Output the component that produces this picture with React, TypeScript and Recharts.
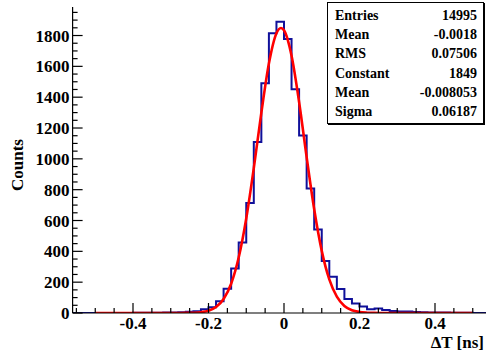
import React from "react";
import { ComposedChart, Line, XAxis, YAxis } from "recharts";

// Histogram: bins of width 0.02 starting at -0.56
const binStart = -0.56;
const binWidth = 0.02;
const counts = [
  0, 0, 0, 0, 0, 0, 0, 0, 1, 1, 2, 2, 3, 4, 5, 8, 12, 24, 38, 76, 158, 288, 457, 713, 1109, 1490, 1814, 1890,
  1778, 1452, 1152, 807, 542, 337, 235, 155, 91, 62, 42, 24, 30, 20, 13, 9, 9, 7, 5, 4, 3, 3, 2, 2, 1, 0, 0, 0,
];

// Gaussian fit curve
const fitX = [-0.5, -0.34, -0.3, -0.28, -0.26, -0.24, -0.22, -0.2, -0.18, -0.16, -0.14, -0.12, -0.1, -0.08, -0.06, -0.04, -0.02, -0.008, 0, 0.02, 0.04, 0.06, 0.08, 0.1, 0.12, 0.14, 0.16, 0.18, 0.2, 0.22, 0.24, 0.26, 0.3, 0.5];
const fitY = [0, 0, 0.03, 0.1, 0.5, 1.7, 5.2, 15, 39, 91, 190, 360, 613, 940, 1299, 1618, 1815, 1849, 1834, 1669, 1369, 1011, 673, 403, 218, 106, 46, 18, 6.5, 2.1, 0.6, 0.15, 0, 0];

const xMajorTicks = [-0.4, -0.2, 0, 0.2, 0.4];
const xMajorLabels = ["-0.4", "-0.2", "0", "0.2", "0.4"];
const xMinorTicks = [-0.55, -0.5, -0.45, -0.35, -0.3, -0.25, -0.15, -0.1, -0.05, 0.05, 0.1, 0.15, 0.25, 0.3, 0.35, 0.45, 0.5, 0.55];
const yMajorTicks = [0, 200, 400, 600, 800, 1000, 1200, 1400, 1600, 1800];
const yMinorTicks = [50, 100, 150, 250, 300, 350, 450, 500, 550, 650, 700, 750, 850, 900, 950, 1050, 1100, 1150, 1250, 1300, 1350, 1450, 1500, 1550, 1650, 1700, 1750, 1850, 1900, 1950];

const xDomain = [-0.56, 0.56];
const yDomain = [0, 1985];

const statsLabels = ["Entries", "Mean", "RMS", "Constant", "Mean", "Sigma"];
const statsValues = ["14995", "-0.0018", "0.07506", "1849", "-0.008053", "0.06187"];

const histData = [
  ...counts.map((c, i) => ({ x: binStart + i * binWidth, y: c })),
  { x: binStart + counts.length * binWidth, y: counts[counts.length - 1] },
];
const fitData = fitX.map((x, i) => ({ x, y: fitY[i] }));

const FONT = "'Liberation Serif', 'DejaVu Serif', serif";

const isIn = (arr: number[], v: number) => arr.some((a) => Math.abs(a - v) < 1e-9);

const XTick = (props: any) => {
  const { x, y, payload } = props;
  const v = payload.value;
  const idx = xMajorTicks.findIndex((a) => Math.abs(a - v) < 1e-9);
  const major = idx >= 0;
  return (
    <g>
      <line x1={x} x2={x} y1={y} y2={y - (major ? 10 : 5)} stroke="#000" strokeWidth={1.2} />
      {major && (
        <text x={x} y={y + 16} textAnchor="middle" fontFamily={FONT} fontWeight="bold" fontSize={17} fill="#000">
          {xMajorLabels[idx]}
        </text>
      )}
    </g>
  );
};

const YTick = (props: any) => {
  const { x, y, payload } = props;
  const v = payload.value;
  const major = isIn(yMajorTicks, v);
  return (
    <g>
      <line x1={x} x2={x + (major ? 10 : 5)} y1={y} y2={y} stroke="#000" strokeWidth={1.2} />
      {major && (
        <text x={x - 3} y={y + 6} textAnchor="end" fontFamily={FONT} fontWeight="bold" fontSize={17} fill="#000">
          {String(v)}
        </text>
      )}
    </g>
  );
};

export default function App() {
  const allX = [...xMajorTicks, ...xMinorTicks].sort((a, b) => a - b);
  const allY = [...yMajorTicks, ...yMinorTicks].sort((a, b) => a - b);
  return (
    <div style={{ position: "absolute", left: 0, top: 0, width: 486, height: 358, overflow: "hidden", background: "#fff" }}>
      <ComposedChart width={500} height={358} margin={{ top: 7, right: 4.6, bottom: 0, left: 0 }}>
        <XAxis
          dataKey="x"
          type="number"
          domain={xDomain}
          allowDataOverflow
          ticks={allX}
          interval={0}
          height={45}
          tickSize={0}
          tickMargin={0}
          tickLine={false}
          axisLine={{ stroke: "#000", strokeWidth: 1.2 }}
          tick={(p: any) => <XTick {...p} />}
        />
        <XAxis
          xAxisId="top"
          orientation="top"
          type="number"
          domain={xDomain}
          height={0}
          tick={false}
          tickLine={false}
          axisLine={{ stroke: "#000", strokeWidth: 1.2 }}
        />
        <YAxis
          type="number"
          domain={yDomain}
          allowDataOverflow
          ticks={allY}
          interval={0}
          width={72.6}
          tickSize={0}
          tickMargin={0}
          tickLine={false}
          axisLine={{ stroke: "#000", strokeWidth: 1.2 }}
          tick={(p: any) => <YTick {...p} />}
        />
        <Line
          data={histData}
          dataKey="y"
          type="stepAfter"
          stroke="#10109a"
          strokeWidth={2}
          dot={false}
          isAnimationActive={false}
        />
        <Line
          data={fitData}
          dataKey="y"
          type="monotone"
          stroke="#ff0000"
          strokeWidth={2.6}
          dot={false}
          isAnimationActive={false}
        />
      </ComposedChart>
      <div
        style={{
          position: "absolute",
          left: 7,
          top: 165,
          transform: "translate(-50%, -50%) rotate(-90deg)",
          transformOrigin: "center",
          fontFamily: FONT,
          fontWeight: "bold",
          fontSize: 17,
          whiteSpace: "nowrap",
          marginLeft: 11,
        }}
      >
        Counts
      </div>
      <div
        style={{
          position: "absolute",
          right: 2,
          top: 333,
          fontFamily: FONT,
          fontWeight: "bold",
          fontSize: 17,
          lineHeight: "20px",
          whiteSpace: "nowrap",
        }}
      >
        ΔT [ns]
      </div>
      <div
        style={{
          position: "absolute",
          left: 327,
          top: 2,
          width: 157,
          height: 122,
          border: "1px solid #000",
          boxShadow: "1px 1px 0 #000",
          background: "#fff",
          boxSizing: "border-box",
          padding: "4px 6px 3px 7px",
          display: "flex",
          flexDirection: "column",
          justifyContent: "space-between",
          fontFamily: FONT,
          fontWeight: "bold",
          fontSize: 14,
        }}
      >
        {statsLabels.map((l, i) => (
          <div key={i} style={{ display: "flex", justifyContent: "space-between", lineHeight: "17px" }}>
            <span>{l}</span>
            <span>{statsValues[i]}</span>
          </div>
        ))}
      </div>
    </div>
  );
}
